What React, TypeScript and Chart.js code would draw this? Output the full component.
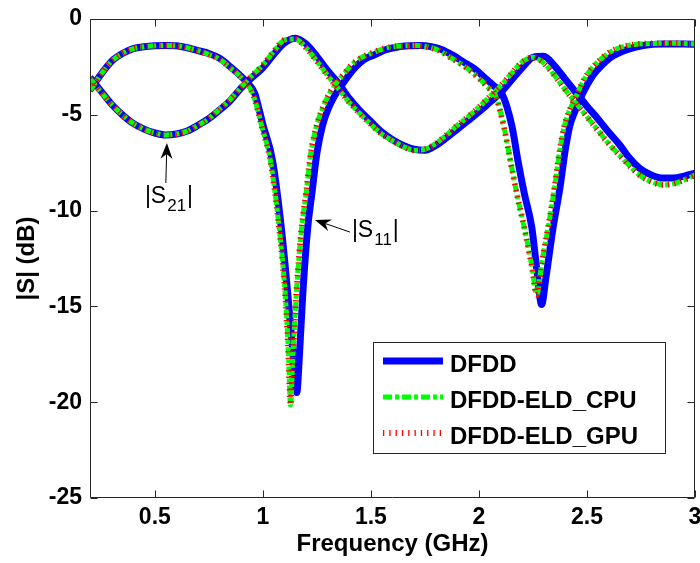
import React, { useEffect, useRef } from "react";
import { Chart, registerables } from "chart.js";
Chart.register(...registerables);

// ---------- data ----------
const freqS21 = [0.2, 0.25, 0.3, 0.35, 0.4, 0.45, 0.5, 0.55, 0.6, 0.65, 0.7, 0.75, 0.8, 0.85, 0.9, 0.95,
  1.0, 1.05, 1.1, 1.15, 1.2, 1.25, 1.3, 1.35, 1.4, 1.45, 1.5, 1.55, 1.6, 1.65, 1.7, 1.75, 1.8, 1.85, 1.9, 1.95,
  2.0, 2.05, 2.1, 2.15, 2.2, 2.25, 2.3, 2.35, 2.4, 2.45, 2.5, 2.55, 2.6, 2.65, 2.7, 2.75, 2.8, 2.85, 2.9, 2.95, 3.0];

const dfddS21 = [-3.05, -3.75, -4.45, -5.0, -5.45, -5.75, -5.95, -6.05, -6.0, -5.85, -5.55, -5.2, -4.75, -4.25, -3.6, -3.05,
  -2.55, -1.85, -1.25, -1.0, -1.3, -1.95, -2.7, -3.35, -4.15, -4.8, -5.35, -5.9, -6.3, -6.6, -6.8, -6.85, -6.6, -6.2, -5.75, -5.3,
  -4.85, -4.35, -3.85, -3.2, -2.55, -2.0, -1.95, -2.45, -3.15, -3.85, -4.55, -5.2, -5.9, -6.55, -7.3, -7.85, -8.15, -8.3, -8.3, -8.2, -8.05];

const eldS21 = [-3.1, -3.8, -4.45, -5.0, -5.45, -5.75, -5.95, -6.05, -6.0, -5.85, -5.55, -5.2, -4.7, -4.2, -3.55, -2.95,
  -2.4, -1.7, -1.1, -1.05, -1.5, -2.2, -2.95, -3.65, -4.35, -4.95, -5.5, -6.0, -6.35, -6.65, -6.85, -6.8, -6.5, -6.05, -5.55, -5.1,
  -4.6, -4.05, -3.5, -2.85, -2.25, -2.0, -2.3, -2.95, -3.7, -4.4, -5.1, -5.8, -6.5, -7.1, -7.7, -8.2, -8.5, -8.65, -8.6, -8.4, -8.15];

const dfddS11Freq = [0.2, 0.25, 0.3, 0.35, 0.4, 0.45, 0.5, 0.55, 0.6, 0.65, 0.7, 0.75, 0.8, 0.85, 0.9, 0.93, 0.963, 0.98,
  1.0, 1.045, 1.085, 1.115, 1.142, 1.157, 1.168, 1.185, 1.208, 1.227, 1.25, 1.275, 1.3, 1.33, 1.365, 1.4, 1.43, 1.47,
  1.52, 1.57, 1.625, 1.68, 1.73, 1.78, 1.83, 1.88, 1.93, 1.98, 2.03, 2.07, 2.107, 2.153, 2.18, 2.21, 2.245, 2.27, 2.29,
  2.31, 2.343, 2.375, 2.4, 2.42, 2.445, 2.467, 2.5, 2.53, 2.57, 2.61, 2.685, 2.76, 2.85, 2.95, 3.0];
const dfddS11 = [-3.7, -2.9, -2.2, -1.8, -1.55, -1.45, -1.4, -1.38, -1.4, -1.5, -1.65, -1.8, -2.05, -2.5, -3.0, -3.35, -3.9, -4.6,
  -5.5, -7.4, -10.85, -14.3, -17.8, -19.5, -17.8, -14.3, -10.85, -9.1, -7.0, -5.6, -4.75, -4.05, -3.45, -2.9, -2.5, -2.1,
  -1.85, -1.6, -1.46, -1.4, -1.38, -1.45, -1.6, -1.9, -2.25, -2.6, -3.1, -3.5, -3.9, -5.6, -7.36, -9.1, -10.9, -13.3, -14.9,
  -13.5, -10.9, -8.8, -6.8, -5.6, -4.8, -4.2, -3.45, -2.9, -2.4, -2.0, -1.6, -1.38, -1.3, -1.3, -1.32];

const eldS11Freq = [0.2, 0.25, 0.3, 0.35, 0.4, 0.45, 0.5, 0.55, 0.6, 0.65, 0.7, 0.75, 0.8, 0.85, 0.9, 0.93, 0.955, 0.975,
  0.995, 1.035, 1.075, 1.103, 1.118, 1.128, 1.138, 1.155, 1.18, 1.2, 1.222, 1.248, 1.275, 1.305, 1.34, 1.38, 1.41, 1.45,
  1.5, 1.55, 1.6, 1.66, 1.71, 1.76, 1.81, 1.86, 1.91, 1.96, 2.01, 2.04, 2.075, 2.115, 2.145, 2.175, 2.21, 2.245, 2.268,
  2.29, 2.32, 2.35, 2.375, 2.395, 2.42, 2.445, 2.48, 2.51, 2.55, 2.59, 2.65, 2.72, 2.8, 2.9, 3.0];
const eldS11 = [-3.75, -2.9, -2.2, -1.8, -1.55, -1.45, -1.4, -1.38, -1.4, -1.5, -1.65, -1.85, -2.1, -2.55, -3.05, -3.45, -3.95, -4.7,
  -5.6, -7.4, -10.85, -14.3, -17.3, -20.15, -17.8, -14.3, -10.85, -9.1, -7.0, -5.6, -4.7, -3.95, -3.35, -2.8, -2.4, -2.05,
  -1.8, -1.58, -1.45, -1.4, -1.38, -1.45, -1.62, -1.95, -2.3, -2.7, -3.2, -3.55, -3.95, -5.6, -7.36, -9.1, -10.9, -12.9, -14.4,
  -12.8, -10.9, -8.8, -6.8, -5.6, -4.75, -4.15, -3.3, -2.75, -2.25, -1.85, -1.5, -1.33, -1.28, -1.27, -1.3];

// GPU results coincide with CPU results in the picture
const gpuS21 = eldS21;
const gpuS11 = eldS11;

const seriesLabels = ["DFDD", "DFDD-ELD_CPU", "DFDD-ELD_GPU"];
const xTickValues = [0.5, 1, 1.5, 2, 2.5, 3];
const xTickLabels = ["0.5", "1", "1.5", "2", "2.5", "3"];
const yTickValues = [0, -5, -10, -15, -20, -25];
const yTickLabels = ["0", "-5", "-10", "-15", "-20", "-25"];

// annotation anchors (data coordinates)
const s21Label = { x: 0.454, y: -9.6, main: "|S", sub: "21" };
const s21Arrow = { fromX: 0.551, fromY: -8.56, toX: 0.556, toY: -6.47 };
const s11Label = { x: 1.412, y: -11.38, main: "|S", sub: "11" };
const s11Arrow = { fromX: 1.403, fromY: -11.12, toX: 1.241, toY: -10.49 };

const FONT = '"Liberation Sans", Arial, Helvetica, sans-serif';

const pts = (fr: number[], v: number[]) => fr.map((f, i) => ({ x: f, y: v[i] }));

const styles = [
  { borderColor: "#0000FF", borderWidth: 7, borderDash: [] as number[], order: 3 },
  { borderColor: "#00FF00", borderWidth: 5, borderDash: [9, 3, 4, 3], order: 2 },
  { borderColor: "#FF0000", borderWidth: 6, borderDash: [1.3, 5], order: 1 },
];

function drawArrow(ctx: CanvasRenderingContext2D, x1: number, y1: number, x2: number, y2: number) {
  const ang = Math.atan2(y2 - y1, x2 - x1);
  const L = 16, W = 6, back = 11;
  ctx.beginPath();
  ctx.moveTo(x1, y1);
  ctx.lineTo(x2 - Math.cos(ang) * back, y2 - Math.sin(ang) * back);
  ctx.strokeStyle = "#000";
  ctx.lineWidth = 1;
  ctx.stroke();
  ctx.beginPath();
  ctx.moveTo(x2, y2);
  ctx.lineTo(x2 - Math.cos(ang) * L - Math.sin(ang) * W, y2 - Math.sin(ang) * L + Math.cos(ang) * W);
  ctx.lineTo(x2 - Math.cos(ang) * back, y2 - Math.sin(ang) * back);
  ctx.lineTo(x2 - Math.cos(ang) * L + Math.sin(ang) * W, y2 - Math.sin(ang) * L - Math.cos(ang) * W);
  ctx.closePath();
  ctx.fillStyle = "#000";
  ctx.fill();
}

function drawSubLabel(ctx: CanvasRenderingContext2D, x: number, y: number, main: string, sub: string) {
  ctx.fillStyle = "#000";
  ctx.textBaseline = "alphabetic";
  ctx.textAlign = "left";
  ctx.font = `23px ${FONT}`;
  ctx.fillText(main, x, y);
  let cx = x + ctx.measureText(main).width + 1;
  ctx.font = `17px ${FONT}`;
  ctx.fillText(sub, cx, y + 8);
  cx += ctx.measureText(sub).width + 1;
  ctx.font = `23px ${FONT}`;
  ctx.fillText("|", cx, y);
}

const framePlugin = {
  id: "frameTicks",
  afterDatasetsDraw(chart: any) {
    const { ctx, chartArea: a, scales } = chart;
    const xs = scales.x, ys = scales.y;
    ctx.save();
    ctx.strokeStyle = "#262626";
    ctx.lineWidth = 1;
    const L = Math.round(a.left) + 0.5, R = Math.round(a.right) - 0.5;
    const T = Math.round(a.top) + 0.5, B = Math.round(a.bottom) - 0.5;
    ctx.beginPath();
    ctx.rect(L, T, R - L, B - T);
    ctx.stroke();
    const tl = 7;
    ctx.beginPath();
    xTickValues.forEach((v) => {
      const px = Math.round(xs.getPixelForValue(v)) + 0.5;
      ctx.moveTo(px, B); ctx.lineTo(px, B - tl);
      ctx.moveTo(px, T); ctx.lineTo(px, T + tl);
    });
    yTickValues.forEach((v) => {
      const py = Math.round(ys.getPixelForValue(v)) + 0.5;
      ctx.moveTo(L, py); ctx.lineTo(L + tl, py);
      ctx.moveTo(R, py); ctx.lineTo(R - tl, py);
    });
    ctx.stroke();
    ctx.restore();
  },
  afterDraw(chart: any) {
    const { ctx, scales } = chart;
    const xs = scales.x, ys = scales.y;
    ctx.save();
    // annotations
    drawArrow(ctx, xs.getPixelForValue(s21Arrow.fromX), ys.getPixelForValue(s21Arrow.fromY),
      xs.getPixelForValue(s21Arrow.toX), ys.getPixelForValue(s21Arrow.toY));
    drawArrow(ctx, xs.getPixelForValue(s11Arrow.fromX), ys.getPixelForValue(s11Arrow.fromY),
      xs.getPixelForValue(s11Arrow.toX), ys.getPixelForValue(s11Arrow.toY));
    drawSubLabel(ctx, xs.getPixelForValue(s21Label.x), ys.getPixelForValue(s21Label.y), s21Label.main, s21Label.sub);
    drawSubLabel(ctx, xs.getPixelForValue(s11Label.x), ys.getPixelForValue(s11Label.y), s11Label.main, s11Label.sub);

    // legend box
    const bx = 373, by = 342, bw = 292, bh = 111;
    ctx.fillStyle = "#fff";
    ctx.fillRect(bx, by, bw, bh);
    ctx.strokeStyle = "#262626";
    ctx.lineWidth = 1;
    ctx.strokeRect(bx + 0.5, by + 0.5, bw, bh);
    seriesLabels.forEach((lab, i) => {
      const st = styles[i];
      const ly = by + 19 + i * 36;
      ctx.beginPath();
      ctx.setLineDash(st.borderDash);
      ctx.strokeStyle = st.borderColor;
      ctx.lineWidth = st.borderWidth;
      ctx.moveTo(bx + 10, ly);
      ctx.lineTo(bx + 70, ly);
      ctx.stroke();
      ctx.setLineDash([]);
      ctx.fillStyle = "#000";
      ctx.font = `bold 24px ${FONT}`;
      ctx.textBaseline = "alphabetic";
      ctx.textAlign = "left";
      ctx.fillText(lab, bx + 77, ly + 11);
    });
    ctx.restore();
  },
};

export default function App() {
  const ref = useRef<HTMLCanvasElement | null>(null);
  useEffect(() => {
    document.body.style.margin = "0";
    const canvas = ref.current!;
    const mk = (label: string, data: any[], si: number) => ({
      label,
      data,
      borderColor: styles[si].borderColor,
      borderWidth: styles[si].borderWidth,
      borderDash: styles[si].borderDash,
      order: styles[si].order,
      pointRadius: 0,
      fill: false,
      cubicInterpolationMode: "monotone" as const,
      borderCapStyle: "butt" as const,
    });
    const chart = new Chart(canvas, {
      type: "line",
      data: {
        datasets: [
          mk("DFDD |S21|", pts(freqS21, dfddS21), 0),
          mk("DFDD |S11|", pts(dfddS11Freq, dfddS11), 0),
          mk("DFDD-ELD_CPU |S21|", pts(freqS21, eldS21), 1),
          mk("DFDD-ELD_CPU |S11|", pts(eldS11Freq, eldS11), 1),
          mk("DFDD-ELD_GPU |S21|", pts(freqS21, gpuS21), 2),
          mk("DFDD-ELD_GPU |S11|", pts(eldS11Freq, gpuS11), 2),
        ],
      },
      options: {
        animation: false,
        responsive: false,
        maintainAspectRatio: false,
        layout: { padding: { top: 19, right: 5, left: 0, bottom: 0 } },
        plugins: { legend: { display: false }, tooltip: { enabled: false }, title: { display: false } },
        scales: {
          x: {
            type: "linear",
            min: 0.2,
            max: 3,
            afterBuildTicks: (s: any) => { s.ticks = xTickValues.map((v) => ({ value: v })); },
            afterFit: (s: any) => { s.height = 65; s.paddingLeft = 0; s.paddingRight = 0; },
            grid: { display: false, drawTicks: false },
            border: { display: false },
            ticks: {
              autoSkip: false,
              maxRotation: 0,
              padding: 6,
              color: "#000",
              font: { family: FONT, size: 23, weight: "bold" },
              callback: (v: any) => { const i = xTickValues.indexOf(Number(v)); return i >= 0 ? xTickLabels[i] : ""; },
            },
            title: {
              display: true,
              text: "Frequency (GHz)",
              color: "#000",
              font: { family: FONT, size: 24, weight: "bold" },
              padding: { top: 0, bottom: 4 },
            },
          },
          y: {
            type: "linear",
            min: -25,
            max: 0,
            afterBuildTicks: (s: any) => { s.ticks = yTickValues.map((v) => ({ value: v })); },
            afterFit: (s: any) => { s.width = 90; s.paddingTop = 0; s.paddingBottom = 0; },
            grid: { display: false, drawTicks: false },
            border: { display: false },
            ticks: {
              autoSkip: false,
              padding: 8,
              color: "#000",
              font: { family: FONT, size: 23, weight: "bold" },
              callback: (v: any) => { const i = yTickValues.indexOf(Number(v)); return i >= 0 ? yTickLabels[i] : ""; },
            },
            title: {
              display: true,
              text: "|S| (dB)",
              color: "#000",
              font: { family: FONT, size: 24, weight: "bold" },
              padding: { top: 13, bottom: 0 },
            },
          },
        },
      },
      plugins: [framePlugin],
    } as any);
    return () => chart.destroy();
  }, []);
  return (
    <div style={{ width: 700, height: 563, background: "#fff" }}>
      <canvas ref={ref} width={700} height={563} style={{ display: "block" }} />
    </div>
  );
}
